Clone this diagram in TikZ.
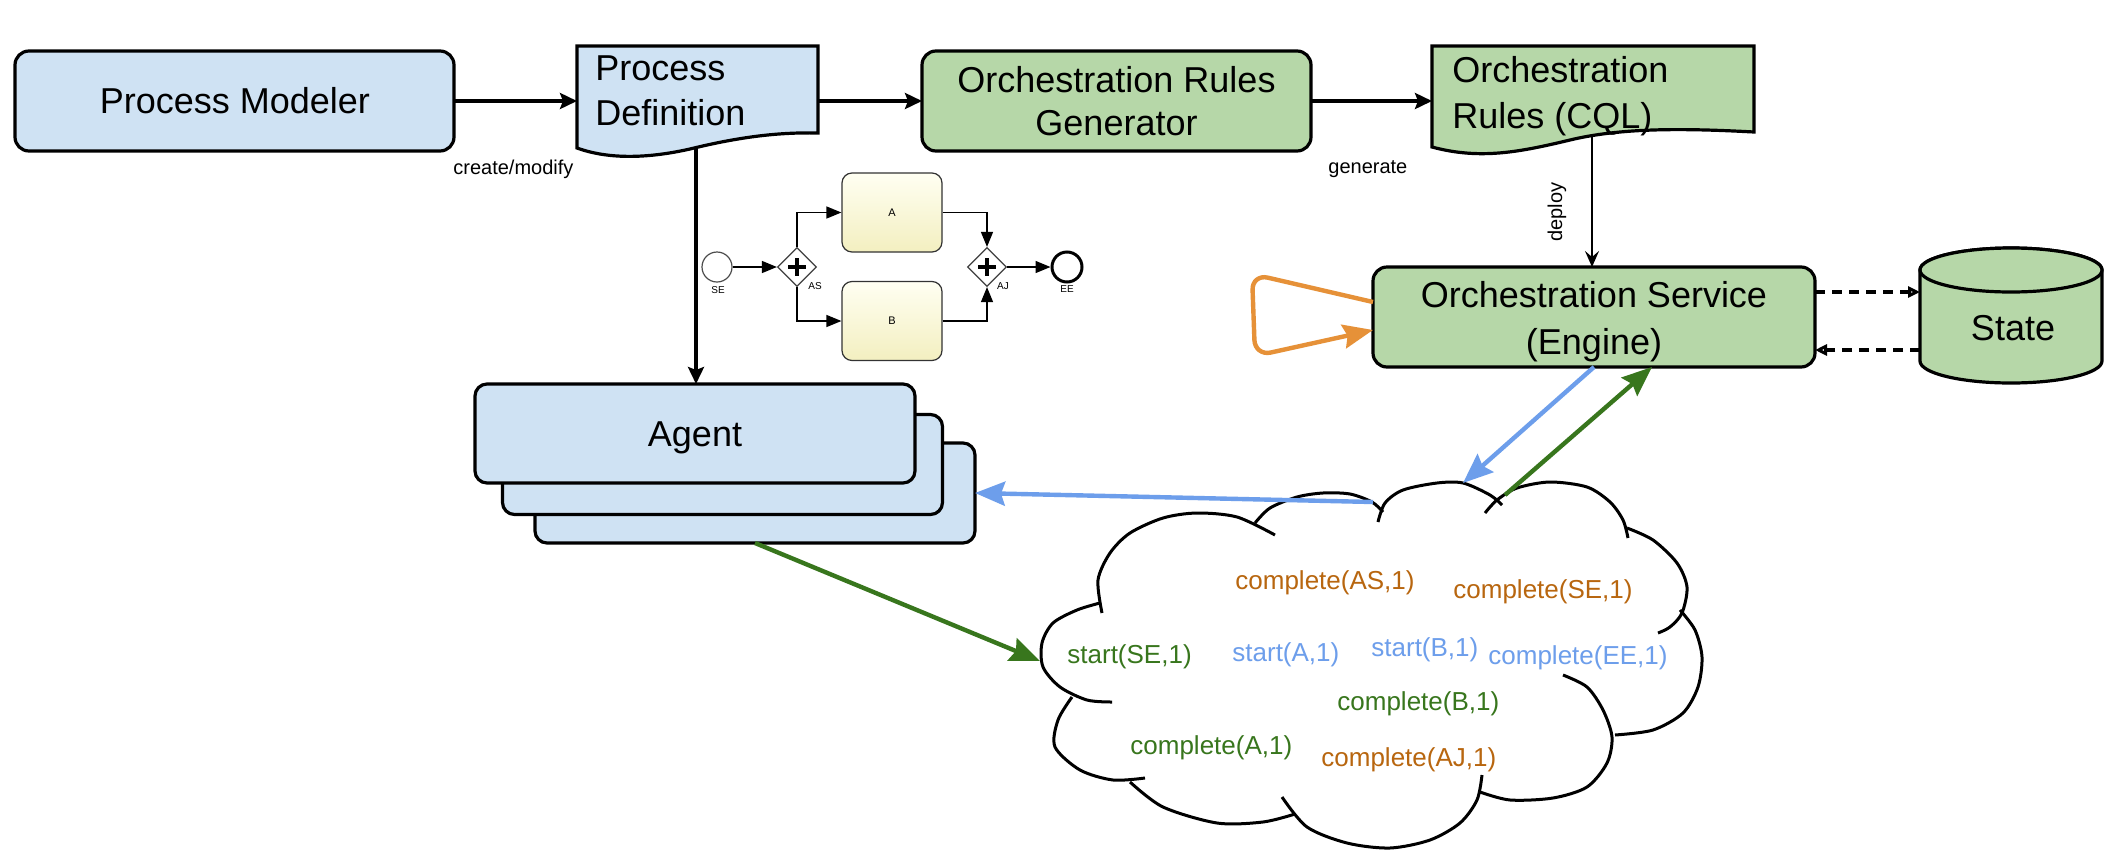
\documentclass[tikz,border=0pt]{standalone}
\usepackage{fontspec}
\setmainfont{Liberation Sans}
\usetikzlibrary{arrows.meta,shapes.geometric,calc}
\definecolor{lblue}{RGB}{207,226,243}
\definecolor{lgreen}{RGB}{182,215,168}
\definecolor{abl}{RGB}{109,158,235}
\definecolor{agr}{RGB}{56,118,29}
\definecolor{aor}{RGB}{230,145,56}
\definecolor{tor}{RGB}{184,102,15}
\definecolor{tgr}{RGB}{56,118,29}
\definecolor{tbl}{RGB}{109,158,235}
\definecolor{taskA}{RGB}{255,255,242}
\definecolor{taskB}{RGB}{243,239,192}
\begin{document}
\begin{tikzpicture}[x=0.5pt,y=-0.5pt,
  mainbox/.style={draw, line width=1.6pt, rounded corners=7pt, inner sep=0pt, outer sep=0pt},
  bbox/.style={mainbox, fill=lblue},
  gbox/.style={mainbox, fill=lgreen},
  ghost/.style={inner sep=0pt, outer sep=0pt},
  docshape/.style={draw, line width=1.6pt},
  txtbig/.style={font=\fontsize{18pt}{21pt}\selectfont, inner sep=0pt},
  txtsmall/.style={font=\fontsize{10pt}{12pt}\selectfont, inner sep=0pt},
  txtmsg/.style={font=\fontsize{13pt}{15pt}\selectfont, inner sep=0pt, anchor=west},
  txtbp/.style={font=\fontsize{5pt}{6pt}\selectfont, inner sep=0pt},
  flow/.style={line width=1.8pt, -{Stealth[length=8.5pt,width=8pt,inset=1.5pt]}},
  thinflow/.style={line width=1pt, -{Stealth[length=8pt,width=7pt,inset=3pt]}},
  dflow/.style={line width=1.7pt, dash pattern=on 5pt off 3.5pt, -{Triangle[open,length=6pt,width=5.5pt]}},
  carrow/.style={line width=2.2pt, -{Stealth[length=15pt,width=12pt,inset=2pt]}},
  puff/.style={line width=1.5pt},
  bflow/.style={line width=0.7pt, -{Triangle[length=7.5pt,width=6pt]}},
  gw/.style={diamond, draw=black!75, line width=0.6pt, fill=white, minimum width=19.5pt, minimum height=19.5pt, inner sep=0pt},
  task/.style={draw=black!80, line width=0.6pt, rounded corners=5pt, top color=taskA, bottom color=taskB, minimum width=50pt, minimum height=39.5pt, inner sep=0pt, font=\fontsize{5.5pt}{6pt}\selectfont},
  evt/.style={circle, minimum size=15pt, inner sep=0pt, fill=white}
]
\useasboundingbox (0,0) rectangle (2106,852);
\fill[white] (0,0) rectangle (2106,852);

% ---------------- cloud ----------------
\node[ghost, minimum width=330.5pt, minimum height=183pt] (cloud) at (1371.5,664.5) {};
\draw[puff] plot[smooth] coordinates {(1102,613) (1098,580) (1110,553) (1130,533) (1163,518) (1197,513) (1237,517) (1275,535)};
\draw[puff] plot[smooth] coordinates {(1255,523) (1270,508) (1297,497) (1323,493) (1350,494) (1372,502) (1383,512)};
\draw[puff] plot[smooth] coordinates {(1378,522) (1385,503) (1403,490) (1437,483) (1463,483) (1490,495) (1502,505)};
\draw[puff] plot[smooth] coordinates {(1485,513) (1497,500) (1517,488) (1550,482) (1587,487) (1610,502) (1623,520) (1628,538)};
\draw[puff] plot[smooth] coordinates {(1627,528) (1653,540) (1677,563) (1687,587) (1682,613) (1670,627) (1658,633)};
\draw[puff] plot[smooth] coordinates {(1680,610) (1695,630) (1702,657) (1698,687) (1683,713) (1653,730) (1615,735)};
\draw[puff] plot[smooth] coordinates {(1563,675) (1587,687) (1603,710) (1612,737) (1607,763) (1587,787) (1553,798) (1510,800) (1480,792)};
\draw[puff] plot[smooth] coordinates {(1482,775) (1477,800) (1460,823) (1430,840) (1390,848) (1347,843) (1307,827) (1282,797)};
\draw[puff] plot[smooth] coordinates {(1130,782) (1163,807) (1217,823) (1263,822) (1295,814)};
\draw[puff] plot[smooth] coordinates {(1072,697) (1058,720) (1055,747) (1080,770) (1113,780) (1145,778)};
\draw[puff] plot[smooth] coordinates {(1112,702) (1087,700) (1060,687) (1043,667) (1042,643) (1053,623) (1077,610) (1100,603)};

\node[txtmsg, text=tor] (m1) at (1235,583) {complete(AS,1)};
\node[txtmsg, text=tor] (m2) at (1453,592) {complete(SE,1)};
\node[txtmsg, text=tgr] (m3) at (1067,657) {start(SE,1)};
\node[txtmsg, text=tbl] (m4) at (1232,655) {start(A,1)};
\node[txtmsg, text=tbl] (m5) at (1371,650) {start(B,1)};
\node[txtmsg, text=tbl] (m6) at (1488,658) {complete(EE,1)};
\node[txtmsg, text=tgr] (m7) at (1337,704) {complete(B,1)};
\node[txtmsg, text=tgr] (m8) at (1130,748) {complete(A,1)};
\node[txtmsg, text=tor] (m9) at (1321,760) {complete(AJ,1)};

\coordinate (cW) at (1040,661);
\coordinate (cN) at (1463,483);
\coordinate (cNE) at (1505,495);
\coordinate (cNW) at (1373,502);

% ---------------- top row ----------------
\node[bbox, minimum width=219.5pt, minimum height=50pt] (pm) at (234.5,101) {};
\node[txtbig, anchor=base] (pmT) at (235,113) {Process Modeler};

\node[ghost, minimum width=120.5pt, minimum height=51pt] (pd) at (697.5,97) {};
\draw[docshape, fill=lblue] (577,46) -- (818,46) -- (818,133) .. controls (775,132) and (735,138) .. (690,149) .. controls (650,158) and (610,160) .. (577,148) -- cycle;
\node[txtbig, anchor=base west] (pdT1) at (595,80) {Process};
\node[txtbig, anchor=base west] (pdT2) at (595,125) {Definition};

\node[gbox, minimum width=194.5pt, minimum height=50pt] (gen) at (1116.5,101) {};
\node[txtbig, anchor=base] (genT1) at (1116.5,92) {Orchestration Rules};
\node[txtbig, anchor=base] (genT2) at (1116.5,135) {Generator};

\node[ghost, minimum width=161pt, minimum height=51pt] (cql) at (1593,97) {};
\draw[docshape, fill=lgreen] (1432,46) -- (1754,46) -- (1754,132) .. controls (1680,128) and (1620,128) .. (1570,140) .. controls (1520,152) and (1480,160) .. (1432,147) -- cycle;
\node[txtbig, anchor=base west] (cqlT1) at (1452,82) {Orchestration};
\node[txtbig, anchor=base west] (cqlT2) at (1452,128) {Rules (CQL)};

% ---------------- engine & state ----------------
\node[gbox, minimum width=221pt, minimum height=50pt] (svc) at (1594,317) {};
\node[txtbig, anchor=base] (svcT1) at (1594,307) {Orchestration Service};
\node[txtbig, anchor=base] (svcT2) at (1594,354) {(Engine)};

\draw[line width=1.6pt, fill=lgreen] (1920,270) -- (1920,361) arc[start angle=180, end angle=0, x radius=91, y radius=22] -- (2102,270) arc[start angle=0, end angle=-180, x radius=91, y radius=22] -- cycle;
\draw[line width=1.6pt, fill=lgreen] (2011,270) ellipse[x radius=91, y radius=22];
\node[ghost, minimum width=91pt, minimum height=67.5pt] (state) at (2011,315.5) {};
\node[txtbig, anchor=base] (stateT) at (2013,340) {State};

% ---------------- agents ----------------
\node[bbox, rounded corners=6pt, minimum width=220pt, minimum height=50pt] (agent3) at (755,493) {};
\node[bbox, rounded corners=6pt, minimum width=220pt, minimum height=50pt] (agent2) at (722.5,464.5) {};
\node[bbox, rounded corners=6pt, minimum width=220pt, minimum height=49.5pt] (agent) at (695,433.5) {};
\node[txtbig, anchor=base] (agentT) at (695,446) {Agent};

% ---------------- BPMN fragment ----------------
\node[evt, draw=black!70, line width=0.6pt] (se) at (717,267) {};
\node[gw] (as) at (797,267) {};
\node[task] (ta) at (892,212.5) {A};
\node[task] (tb) at (892,321) {B};
\node[gw] (aj) at (987,267) {};
\node[evt, draw=black, line width=1.5pt] (ee) at (1067,267) {};
\foreach \g in {as,aj} {
  \draw[line width=2pt] (\g) ++(-9,0) -- ++(18,0);
  \draw[line width=2pt] (\g) ++(0,-9) -- ++(0,18);
}
\node[txtbp] (seL) at (718,290) {SE};
\node[txtbp] (asL) at (815,286) {AS};
\node[txtbp] (ajL) at (1003,286) {AJ};
\node[txtbp] (eeL) at (1067,289) {EE};
\draw[bflow] (se) -- (as);
\draw[bflow] (as.north) |- (ta.west);
\draw[bflow] (as.south) |- (tb.west);
\draw[bflow] (ta.east) -| (aj.north);
\draw[bflow] (tb.east) -| (aj.south);
\draw[bflow] (aj) -- (ee);

% ---------------- black connectors ----------------
\draw[flow] (pm.east) -- (pm.east -| pd.west);
\draw[flow] (pd.east |- gen.west) -- (gen.west);
\draw[flow] (gen.east) -- (gen.east -| cql.west);
\coordinate (pdB) at (696,148);
\draw[flow] (pdB) -- (pdB |- agent.north);
\coordinate (cqlB) at (1592,136);
\draw[thinflow] (cqlB) -- (cqlB |- svc.north);

\node[txtsmall, anchor=base west] (lblCM) at (453,174) {create/modify};
\node[txtsmall, anchor=base west] (lblGen) at (1328,173) {generate};
\node[txtsmall, rotate=90] (lblDep) at (1557,212) {deploy};

\coordinate (s1) at ([yshift=12.5pt]svc.east);
\coordinate (s2) at ([yshift=-16.5pt]svc.east);
\draw[dflow] (s1) -- (s1 -| state.west);
\draw[dflow] (s2 -| state.west) -- (s2);

% ---------------- coloured connectors ----------------
\draw[carrow, draw=abl] (cNW) -- (agent3.east);
\draw[carrow, draw=agr] (agent3.south) -- (cW);
\draw[carrow, draw=abl] (svc.south) -- (cN);
\draw[carrow, draw=agr] (cNE) -- ([xshift=29pt]svc.south);
\draw[carrow, draw=aor, rounded corners=8pt] ([yshift=7.5pt]svc.west) -- (1252,274) -- (1255,356) -- ([yshift=-6.5pt]svc.west);
\end{tikzpicture}
\end{document}
